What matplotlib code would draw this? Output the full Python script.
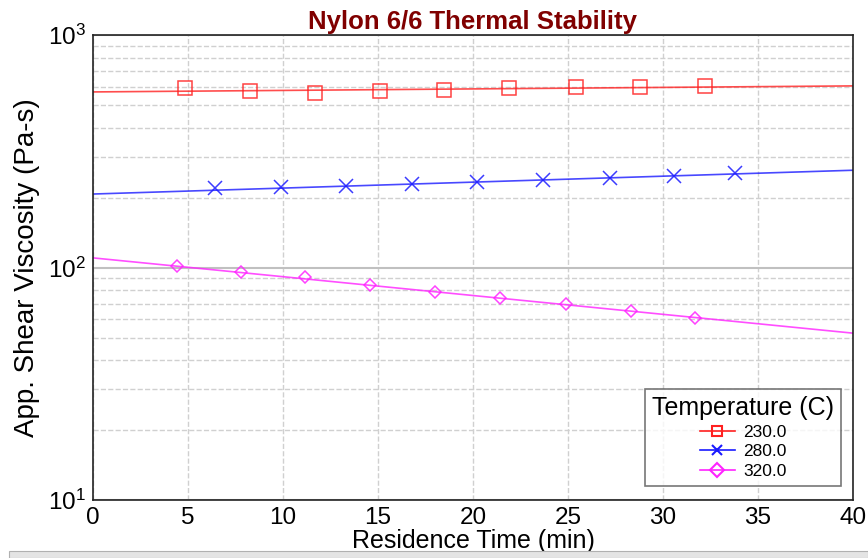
import matplotlib.pyplot as plt
from matplotlib.lines import Line2D
from matplotlib.patches import Rectangle
import numpy as np

plt.rcParams['font.family'] = ['Liberation Sans', 'DejaVu Sans']
plt.rcParams['mathtext.fontset'] = 'custom'
plt.rcParams['mathtext.rm'] = 'Liberation Sans'
plt.rcParams['mathtext.it'] = 'Liberation Sans:italic'
plt.rcParams['mathtext.bf'] = 'Liberation Sans:bold'

# measured points (residence time in min, viscosity in Pa-s)
t_230 = [4.84, 8.26, 11.68, 15.1, 18.5, 21.9, 25.4, 28.8, 32.2]
v_230 = [591, 574, 562, 574, 580, 591, 597, 597, 603]
t_280 = [6.42, 9.9, 13.3, 16.8, 20.2, 23.7, 27.2, 30.6, 33.8]
v_280 = [220, 222, 224, 229, 233, 238, 243, 248, 255]
t_320 = [4.42, 7.79, 11.16, 14.6, 18.0, 21.4, 24.9, 28.3, 31.7]
v_320 = [101.5, 95.7, 91.0, 84.0, 78.5, 74.0, 69.6, 65.0, 60.7]

# fitted lines, ends at 0 and 40 min
fit_t = [0, 40]
fit_230 = [569, 604]
fit_280 = [207, 262]
fit_320 = [110, 52.2]

labels = ['230.0', '280.0', '320.0']
colors = ['#ff2020', '#1a1aff', '#ff22ff']
markers = ['s', 'x', 'D']

fig = plt.figure(figsize=(8.68, 5.58), dpi=100)
ax = fig.add_axes([0.1071, 0.1039, 0.8756, 0.8334])

series = [(t_230, v_230, fit_230), (t_280, v_280, fit_280), (t_320, v_320, fit_320)]
sizes = [9.5, 10, 6.5]
for (t, v, f), c, m, ms in zip(series, colors, markers, sizes):
    ax.plot(fit_t, f, color=c, lw=1.2, alpha=0.8)
    ax.plot(t, v, ls='none', marker=m, ms=ms, mfc='none', mec=c, mew=1.1, alpha=0.85)

ax.set_yscale('log')
ax.set_ylim(10, 1000)
ax.set_xlim(0, 40)
ax.set_xticks(range(0, 41, 5))
ax.grid(True, which='major', axis='y', color='#c0c0c0', ls='-', lw=1.5)
ax.grid(True, which='minor', axis='y', color='#d0d0d0', ls='--', lw=1)
ax.grid(True, which='major', axis='x', color='#d0d0d0', ls='--', lw=1)
ax.set_axisbelow(True)
ax.tick_params(which='both', length=0, labelsize=17.5, pad=5)
for s in ax.spines.values():
    s.set_linewidth(1.2)
    s.set_color('#222222')

ax.set_xlabel('Residence Time (min)', fontsize=18, labelpad=0)
ax.set_ylabel('App. Shear Viscosity (Pa-s)', fontsize=20, labelpad=6)
ax.set_title('Nylon 6/6 Thermal Stability', fontsize=18.5, fontweight='bold', color='#800000', pad=4)

handles = [Line2D([], [], color=c, marker=m, ms=7, mfc='none', mew=1.5, lw=1.2)
           for c, m in zip(colors, markers)]
leg = ax.legend(handles, labels, title='Temperature (C)', loc='lower right',
                bbox_to_anchor=(0.996, 0.012), fontsize=12.5, title_fontsize=18,
                frameon=True, fancybox=False, edgecolor='#555555', handlelength=2,
                borderpad=0.4, labelspacing=0.25, handletextpad=0.5)
leg.get_frame().set_linewidth(1.2)
leg._legend_box.align = 'center'

# window strip at the bottom of the screenshot
fig.patches.append(Rectangle((0.01, 0), 0.99, 0.012, transform=fig.transFigure,
                             facecolor='#e4e4e4', edgecolor='#b0b0b0', lw=0.8))

fig.savefig('out.png', dpi=100)
